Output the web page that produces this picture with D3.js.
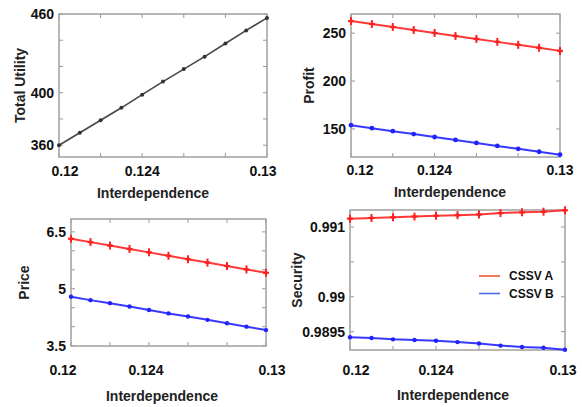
<!DOCTYPE html>
<html>
<head>
<meta charset="utf-8">
<script src="https://cdn.jsdelivr.net/npm/d3@7"></script>
<style>
  html, body { margin: 0; padding: 0; background: #fff; }
  svg { display: block; font-family: "Liberation Sans", Arial, sans-serif; font-weight: bold; }
</style>
</head>
<body>
<svg id="chart" width="582" height="407"></svg>
<script>
// Data
const interdependence = [0.12, 0.121, 0.122, 0.123, 0.124, 0.125, 0.126, 0.127, 0.128, 0.129, 0.13];
const totalUtility = [360, 369.5, 379, 388.5, 398.5, 408.5, 418, 427.5, 437.5, 447.5, 457];
const profitA = [262.6, 259.5, 256.4, 253.3, 250.2, 247.1, 244.0, 240.9, 237.8, 234.7, 231.5];
const profitB = [153.9, 150.8, 147.7, 144.6, 141.6, 138.5, 135.4, 132.3, 129.2, 126.2, 123.1];
const priceA = [6.32, 6.23, 6.14, 6.05, 5.96, 5.87, 5.78, 5.69, 5.60, 5.51, 5.42];
const priceB = [4.79, 4.70, 4.62, 4.53, 4.44, 4.35, 4.27, 4.18, 4.09, 4.00, 3.91];
const securityA = [0.99112, 0.99113, 0.99114, 0.99115, 0.99116, 0.99117, 0.99118, 0.99120, 0.99121, 0.99122, 0.99124];
const securityB = [0.98942, 0.98941, 0.98939, 0.98938, 0.98937, 0.98935, 0.98933, 0.98930, 0.98928, 0.98927, 0.98924];

// Tick labels
const xTickLabels = [0.12, 0.124, 0.13];
const utilityTicks = [360, 400, 460];
const profitTicks = [150, 200, 250];
const priceTicks = [3.5, 5, 6.5];
const securityTicks = [0.9895, 0.99, 0.991];
const legendNames = ['CSSV A', 'CSSV B'];

const colorA = '#ff2222', colorB = '#2222ff', colorU = '#333';

const panels = [
  { box: [59, 267, 14, 157], yDomain: [351, 460], yTicks: utilityTicks, yMinor: d3.range(360, 461, 20),
    yTitle: 'Total Utility', yTitleX: 20, titleX: 153, titleY: 193, tickY: 171, xShift: [6, 0, -4],
    series: [{ values: totalUtility, color: colorU, marker: 'dot', width: 1.6, r: 2 }] },
  { box: [351, 560, 14, 157], yDomain: [120.7, 270], yTicks: profitTicks, yMinor: profitTicks,
    yTitle: 'Profit', yTitleX: 309, titleX: 450, titleY: 192, tickY: 170, xShift: [9, 0, 0],
    series: [{ values: profitA, color: colorA, marker: 'plus', width: 2 },
             { values: profitB, color: colorB, marker: 'dot', width: 2, r: 2.4 }] },
  { box: [71, 266, 219, 346], yDomain: [3.49, 6.84], yTicks: priceTicks, yMinor: d3.range(3.5, 6.6, 0.5),
    yTitle: 'Price', yTitleX: 24, titleX: 162, titleY: 396, tickY: 370, xShift: [-8, -3, 6],
    series: [{ values: priceA, color: colorA, marker: 'plus', width: 2 },
             { values: priceB, color: colorB, marker: 'dot', width: 2, r: 2.2 }] },
  { box: [350, 565, 210, 350], yDomain: [0.989237, 0.991244], yTicks: securityTicks, yMinor: [0.9895, 0.99, 0.9905, 0.991],
    yTitle: 'Security', yTitleX: 297, titleX: 453, titleY: 395, tickY: 370, xShift: [6, 0, -2],
    series: [{ values: securityA, color: colorA, marker: 'plus', width: 2 },
             { values: securityB, color: colorB, marker: 'dot', width: 2, r: 2.2 }],
    legend: true }
];

const svg = d3.select('#chart');
const xMinor = d3.range(0, 6).map(i => 0.12 + i * 0.002);

panels.forEach(p => {
  const [x0, x1, y0, y1] = p.box;
  const x = d3.scaleLinear().domain([0.12, 0.13]).range([x0, x1]);
  const y = d3.scaleLinear().domain(p.yDomain).range([y1, y0]);
  const g = svg.append('g');

  // inner ticks on all four sides
  const tickLen = 4;
  const ticks = g.append('g').attr('stroke', '#999').attr('stroke-width', 1);
  xMinor.forEach(v => {
    ticks.append('line').attr('x1', x(v)).attr('x2', x(v)).attr('y1', y1).attr('y2', y1 - tickLen);
    ticks.append('line').attr('x1', x(v)).attr('x2', x(v)).attr('y1', y0).attr('y2', y0 + tickLen);
  });
  p.yMinor.forEach(v => {
    ticks.append('line').attr('x1', x0).attr('x2', x0 + tickLen).attr('y1', y(v)).attr('y2', y(v));
    ticks.append('line').attr('x1', x1).attr('x2', x1 - tickLen).attr('y1', y(v)).attr('y2', y(v));
  });

  // frame
  g.append('rect')
    .attr('x', x0).attr('y', y0)
    .attr('width', x1 - x0).attr('height', y1 - y0)
    .attr('fill', 'none').attr('stroke', '#a0a0a0').attr('stroke-width', 1.5);

  // tick labels
  g.selectAll('.xt').data(xTickLabels).join('text')
    .attr('x', (d, i) => x(d) + p.xShift[i]).attr('y', p.tickY).attr('dy', '0.35em')
    .attr('text-anchor', 'middle').attr('font-size', 14).attr('fill', '#111')
    .text(d => d);
  g.selectAll('.yt').data(p.yTicks).join('text')
    .attr('x', x0 - 5).attr('y', d => y(d)).attr('dy', '0.35em')
    .attr('text-anchor', 'end').attr('font-size', 14).attr('fill', '#111')
    .text(d => d);

  // axis titles
  g.append('text')
    .attr('x', p.titleX).attr('y', p.titleY).attr('dy', '0.35em')
    .attr('text-anchor', 'middle').attr('font-size', 14).attr('fill', '#222')
    .text('Interdependence');
  g.append('text')
    .attr('transform', `translate(${p.yTitleX},${(y0 + y1) / 2}) rotate(-90)`)
    .attr('dy', '0.35em')
    .attr('text-anchor', 'middle').attr('font-size', 14).attr('fill', '#222')
    .text(p.yTitle);

  // series
  const line = d3.line().x((d, i) => x(interdependence[i])).y(d => y(d));
  p.series.forEach(s => {
    g.append('path').datum(s.values)
      .attr('d', line)
      .attr('fill', 'none').attr('stroke', s.color)
      .attr('stroke-width', s.width).attr('opacity', 0.9);

    const pts = g.append('g').attr('fill', s.color).attr('stroke', s.color);
    s.values.forEach((v, i) => {
      const cx = x(interdependence[i]), cy = y(v);
      if (s.marker === 'plus') {
        pts.append('line').attr('x1', cx).attr('x2', cx).attr('y1', cy - 4).attr('y2', cy + 4).attr('stroke-width', 2);
        pts.append('line').attr('x1', cx - 3).attr('x2', cx + 3).attr('y1', cy).attr('y2', cy).attr('stroke-width', 2);
        pts.append('circle').attr('cx', cx).attr('cy', cy).attr('r', 1.8).attr('stroke', 'none');
      } else {
        pts.append('circle').attr('cx', cx).attr('cy', cy).attr('r', s.r).attr('stroke', 'none');
      }
    });
  });

  if (p.legend) {
    const legendColors = ['#ee5a30', '#4670dd'];
    const lg = g.append('g');
    legendNames.forEach((name, i) => {
      const ly = 276 + i * 17.5;
      lg.append('line').attr('x1', 479).attr('x2', 500).attr('y1', ly).attr('y2', ly)
        .attr('stroke', legendColors[i]).attr('stroke-width', 1.6);
      lg.append('text').attr('x', 509).attr('y', ly).attr('dy', '0.35em')
        .attr('font-size', 12).attr('fill', '#111').text(name);
    });
  }
});
</script>
</body>
</html>
